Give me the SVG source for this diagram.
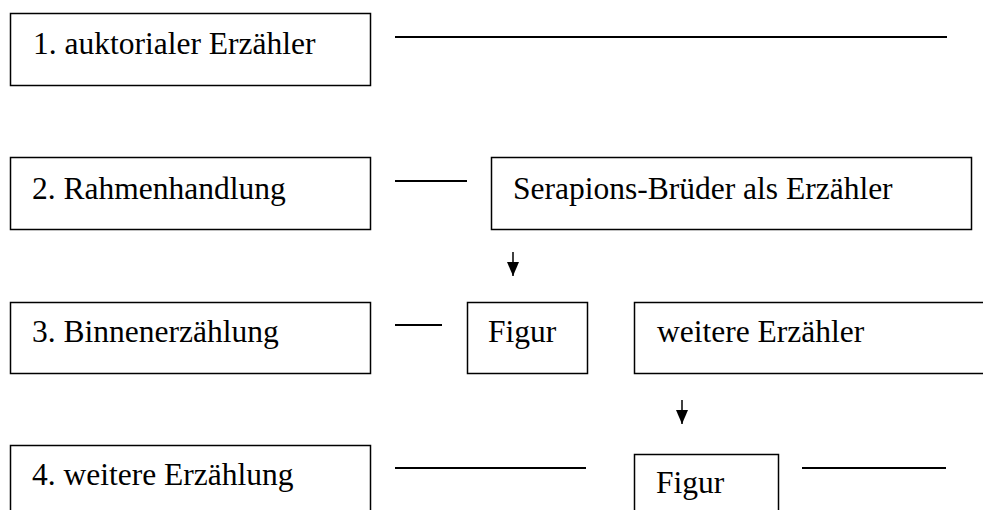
<svg xmlns="http://www.w3.org/2000/svg" width="983" height="510" viewBox="0 0 983 510">
<style>
.box{fill:#fff;stroke:#000;stroke-width:1.5}
.ln{stroke:#000;stroke-width:2;fill:none}
.t{font-size:31.5px;fill:#000}
</style>
<defs>
<marker id="ah" viewBox="0 0 14 12" refX="14" refY="6" markerWidth="14" markerHeight="12" markerUnits="userSpaceOnUse" orient="auto">
<path d="M0,0 L14,6 L0,12 Z" fill="#000"/>
</marker>
</defs>
<rect width="983" height="510" fill="#fff"/>
<g font-family="'Liberation Serif', Tinos, 'Times New Roman', Times, 'DejaVu Serif', serif">
<g id="n1"><rect class="box" x="10.5" y="13.5" width="360" height="72"/><text class="t" x="33" y="54">1. auktorialer Erzähler</text></g>
<g id="n2"><rect class="box" x="10.5" y="157.5" width="360" height="72"/><text class="t" x="32" y="199">2. Rahmenhandlung</text></g>
<g id="n3"><rect class="box" x="491.5" y="157.5" width="480" height="72"/><text class="t" x="513" y="199">Serapions-Brüder als Erzähler</text></g>
<g id="n4"><rect class="box" x="10.5" y="302.5" width="360" height="71"/><text class="t" x="32" y="342">3. Binnenerzählung</text></g>
<g id="n5"><rect class="box" x="467.5" y="302.5" width="120" height="71"/><text class="t" x="488" y="342">Figur</text></g>
<g id="n6"><rect class="box" x="634.5" y="302.5" width="400" height="71"/><text class="t" x="657" y="342">weitere Erzähler</text></g>
<g id="n7"><rect class="box" x="10.5" y="445.5" width="360" height="80"/><text class="t" x="32" y="485">4. weitere Erzählung</text></g>
<g id="n8"><rect class="box" x="634.5" y="454.5" width="144" height="80"/><text class="t" x="656" y="493">Figur</text></g>
</g>
<g id="connectors">
<line class="ln" x1="395" y1="37" x2="947" y2="37"/>
<line class="ln" x1="395" y1="181" x2="467" y2="181"/>
<line class="ln" x1="395" y1="325" x2="442" y2="325"/>
<line class="ln" x1="395" y1="468" x2="586" y2="468"/>
<line class="ln" x1="802" y1="468" x2="946" y2="468"/>
<line stroke="#000" stroke-width="1.5" x1="513" y1="252" x2="513" y2="276" marker-end="url(#ah)"/>
<line stroke="#000" stroke-width="1.5" x1="682" y1="400" x2="682" y2="424" marker-end="url(#ah)"/>
</g>
</svg>
